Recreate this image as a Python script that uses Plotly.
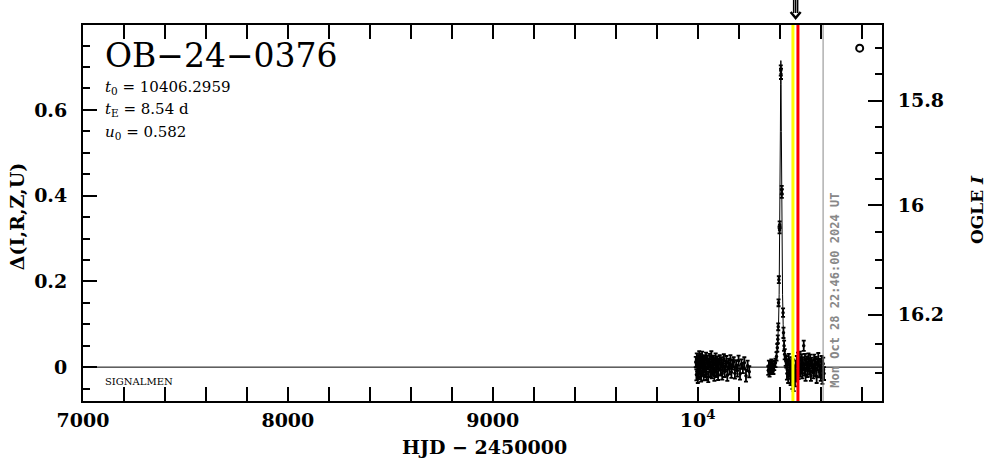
import plotly.graph_objects as go

# ---------------- data ----------------
EVENT = "OB−24−0376"
T0 = 10406.2959
TE = 8.54
U0 = 0.582
NOTE = "SIGNALMEN"
DATE_TEXT = "Mon Oct 28 22:46:00 2024 UT"
DATE_T = 10612.45          # HJD-2450000 of the date stamp
YELLOW_T = 10465.3
RED_T = 10489.7
ARROW_T = 10478.5

# 2023 season baseline
T23 = [9991, 9994, 9996, 9998, 10001, 10003, 10005, 10008, 10010, 10012,
       10015, 10017, 10019, 10022, 10025, 10027, 10030, 10033, 10035, 10038,
       10041, 10043, 10046, 10049, 10052, 10055, 10058, 10061, 10064, 10067,
       10070, 10073, 10076, 10079, 10082, 10085, 10088, 10091, 10094, 10097,
       10100, 10104, 10108, 10112, 10116, 10120, 10124, 10128, 10132, 10136,
       10140, 10145, 10150, 10155, 10160, 10165, 10170, 10176, 10182, 10188,
       10194, 10200, 10207, 10214, 10221, 10228, 10236, 10244, 10252]
D23 = [0.012, -0.018, 0.021, 0.004, -0.025, 0.015, -0.008, 0.026, 0.002, -0.014,
       0.019, -0.021, 0.008, 0.024, -0.006, 0.011, -0.019, 0.017, 0.003, -0.011,
       0.022, -0.016, 0.009, 0.014, -0.023, 0.006, 0.018, -0.009, 0.001, 0.025,
       -0.013, 0.010, -0.004, 0.016, -0.020, 0.007, 0.020, -0.012, 0.003, 0.013,
       -0.017, 0.008, 0.017, -0.007, 0.011, -0.015, 0.005, 0.019, -0.010, 0.002,
       0.014, -0.019, 0.009, -0.003, 0.016, -0.012, 0.006, 0.012, -0.014, 0.004,
       -0.008, 0.015, -0.016, 0.007, -0.002, 0.010, -0.020, 0.003, -0.011]
E23 = [0.012, 0.013, 0.011, 0.014, 0.012, 0.013, 0.015, 0.011, 0.012, 0.014,
       0.012, 0.013, 0.011, 0.012, 0.014, 0.013, 0.012, 0.011, 0.013, 0.012,
       0.012, 0.014, 0.011, 0.013, 0.012, 0.012, 0.013, 0.014, 0.011, 0.012,
       0.013, 0.012, 0.014, 0.011, 0.012, 0.013, 0.012, 0.011, 0.014, 0.012,
       0.013, 0.012, 0.011, 0.013, 0.012, 0.014, 0.012, 0.011, 0.013, 0.012,
       0.012, 0.013, 0.011, 0.014, 0.012, 0.013, 0.012, 0.011, 0.013, 0.012,
       0.014, 0.012, 0.013, 0.011, 0.012, 0.013, 0.014, 0.012, 0.013]

# 2024 season: before, during and after the peak
T24 = [10345, 10348, 10351, 10354, 10357, 10360, 10363, 10366, 10370, 10374,
       10380, 10385, 10389, 10391.5, 10393.5, 10395, 10396.5, 10400, 10400.5,
       10406.0, 10407.0, 10410.5, 10411, 10417, 10419, 10422, 10425, 10430,
       10433, 10436, 10439, 10442, 10445, 10448, 10451, 10454, 10457, 10460,
       10463, 10466, 10469, 10472, 10475, 10478, 10481, 10484, 10487, 10490,
       10493, 10496, 10499, 10502, 10505, 10508, 10511, 10514, 10518, 10521,
       10524, 10527, 10530, 10533, 10537, 10541, 10545, 10549, 10553, 10557,
       10561, 10565, 10569, 10573, 10577, 10581, 10585, 10589, 10593, 10597,
       10601, 10605, 10609, 10613, 10617]
D24 = [-0.008, 0.004, -0.012, 0.000, -0.005, 0.008, -0.003, 0.002, -0.006, 0.004,
       0.010, 0.025, 0.045, 0.065, 0.094, 0.150, 0.204, 0.320, 0.332,
       0.692, 0.684, 0.413, 0.405, 0.127, 0.080, 0.050, 0.030, 0.015,
       0.012, -0.015, 0.006, -0.022, 0.018, -0.008, 0.003, -0.027, 0.010, -0.018,
       -0.035, 0.005, -0.040, -0.012, -0.030, 0.002, -0.020, 0.014, -0.008, 0.020,
       -0.016, 0.008, 0.022, -0.010, 0.004, 0.016, -0.014, 0.010, 0.050, -0.006,
       0.018, -0.018, 0.007, 0.012, -0.009, 0.020, -0.004, 0.015, -0.020, 0.009,
       0.002, -0.013, 0.017, -0.007, 0.011, -0.022, 0.006, 0.019, -0.011, 0.004,
       -0.018, 0.013, -0.024, 0.008, -0.015]
E24 = [0.010, 0.011, 0.010, 0.012, 0.011, 0.010, 0.011, 0.012, 0.010, 0.011,
       0.010, 0.010, 0.009, 0.009, 0.008, 0.008, 0.008, 0.008, 0.008,
       0.012, 0.012, 0.010, 0.010, 0.010, 0.012, 0.012, 0.012, 0.012,
       0.013, 0.014, 0.012, 0.015, 0.013, 0.014, 0.012, 0.015, 0.013, 0.014,
       0.016, 0.013, 0.016, 0.014, 0.015, 0.013, 0.014, 0.012, 0.013, 0.014,
       0.012, 0.013, 0.014, 0.012, 0.013, 0.014, 0.012, 0.013, 0.012, 0.014,
       0.013, 0.014, 0.012, 0.013, 0.014, 0.012, 0.013, 0.014, 0.012, 0.013,
       0.014, 0.013, 0.012, 0.014, 0.013, 0.015, 0.013, 0.014, 0.013, 0.015,
       0.014, 0.013, 0.015, 0.014, 0.015]

# model light curve
MODEL_T = [10340, 10380, 10388, 10392, 10395, 10398, 10400, 10402, 10404, 10405.3,
           10406.3, 10407.3, 10408.6, 10410.6, 10412.6, 10414.6, 10417.6, 10420.6,
           10424.6, 10432, 10470]
MODEL_D = [0.0, 0.012, 0.035, 0.062, 0.10, 0.17, 0.25, 0.38, 0.55, 0.66,
           0.715, 0.66, 0.55, 0.38, 0.25, 0.17, 0.10, 0.062, 0.035, 0.012, 0.0]

# lone open circle near the top right
CIRCLE_T = [10791]
CIRCLE_D = [0.744]

# axes
X_RANGE = [7000, 10900]
Y_RANGE = [-0.079, 0.798]
X_TICKS = [7000, 8000, 9000, 10000]
X_TICKTEXT = ["7000", "8000", "9000", "10<sup>4</sup>"]
Y_TICKS = [0, 0.2, 0.4, 0.6]
Y_TICKTEXT = ["0", "0.2", "0.4", "0.6"]
# right OGLE I magnitude axis: labels and their Δ positions
MAG_MAJOR = ["15.8", "16", "16.2"]
MAG_MAJOR_POS = [0.6214, 0.3783, 0.1221]
MAG_MINOR_POS = [0.7436, 0.6830, 0.5608, 0.5002, 0.4396, 0.3147, 0.2501,
                 0.1841, 0.0534, -0.0140]

assert len(T23) == len(D23) == len(E23)
assert len(T24) == len(D24) == len(E24)
assert len(MODEL_T) == len(MODEL_D)

# ---------------- figure ----------------
FONT = "DejaVu Serif"
fig = go.Figure()

err_style = dict(type="data", thickness=1.8, width=2, color="black")
for t, d, e in [(T23, D23, E23), (T24, D24, E24)]:
    fig.add_trace(go.Scatter(
        x=t, y=d, mode="markers",
        marker=dict(size=3.5, color="black"),
        error_y=dict(array=e, **err_style),
        showlegend=False, hoverinfo="skip"))

fig.add_trace(go.Scatter(x=MODEL_T, y=MODEL_D, mode="lines",
                         line=dict(color="black", width=1),
                         showlegend=False, hoverinfo="skip"))
fig.add_trace(go.Scatter(x=CIRCLE_T, y=CIRCLE_D, mode="markers",
                         marker=dict(size=7, symbol="circle-open", color="black",
                                     line=dict(width=2, color="black")),
                         showlegend=False, hoverinfo="skip"))
# invisible traces to activate the right-side axes
fig.add_trace(go.Scatter(x=[X_RANGE[0]], y=[0], yaxis="y2", mode="markers",
                         marker=dict(opacity=0), showlegend=False, hoverinfo="skip"))
fig.add_trace(go.Scatter(x=[X_RANGE[0]], y=[0], yaxis="y3", mode="markers",
                         marker=dict(opacity=0), showlegend=False, hoverinfo="skip"))

shapes = [
    dict(type="line", xref="paper", x0=0, x1=1, yref="y", y0=0, y1=0,
         line=dict(color="black", width=1)),
    dict(type="line", xref="x", x0=YELLOW_T, x1=YELLOW_T, yref="paper", y0=0, y1=1,
         line=dict(color="#ffff00", width=3)),
    dict(type="line", xref="x", x0=RED_T, x1=RED_T, yref="paper", y0=0, y1=1,
         line=dict(color="#ff0000", width=3)),
    dict(type="line", xref="x", x0=DATE_T, x1=DATE_T, yref="paper", y0=0, y1=1,
         line=dict(color="#888888", width=1)),
]
# the down arrow above the frame
for dx in (-2, 0, 2):
    shapes.append(dict(type="line", xref="x", xsizemode="pixel", xanchor=ARROW_T,
                       x0=dx, x1=dx, yref="paper", ysizemode="pixel", yanchor=1,
                       y0=12, y1=26, line=dict(color="black", width=1.5)))
shapes.append(dict(type="path", xref="x", xsizemode="pixel", xanchor=ARROW_T,
                   yref="paper", ysizemode="pixel", yanchor=1,
                   path="M -5,13 L 0,7 L 5,13", line=dict(color="black", width=2.5)))

annotations = [
    dict(text=EVENT, xref="paper", yref="paper", x=0.025, y=0.918,
         xanchor="left", yanchor="middle", showarrow=False,
         font=dict(family=FONT, size=33, color="black")),
    dict(text=f"<i>t</i><sub>0</sub> = {T0:.4f}", xref="paper", yref="paper",
         x=0.025, y=0.835, xanchor="left", yanchor="middle", showarrow=False,
         font=dict(family=FONT, size=15, color="black")),
    dict(text=f"<i>t</i><sub>E</sub> = {TE:.2f} d", xref="paper", yref="paper",
         x=0.025, y=0.774, xanchor="left", yanchor="middle", showarrow=False,
         font=dict(family=FONT, size=15, color="black")),
    dict(text=f"<i>u</i><sub>0</sub> = {U0:.3f}", xref="paper", yref="paper",
         x=0.025, y=0.715, xanchor="left", yanchor="middle", showarrow=False,
         font=dict(family=FONT, size=15, color="black")),
    dict(text=NOTE, xref="paper", yref="paper", x=0.025, y=0.053,
         xanchor="left", yanchor="middle", showarrow=False,
         font=dict(family=FONT, size=10, color="black")),
    dict(text=f"<b>{DATE_TEXT}</b>", xref="x", yref="paper", x=DATE_T, xshift=3,
         y=0.029, xanchor="left", yanchor="bottom", textangle=-90, showarrow=False,
         font=dict(family="DejaVu Sans Mono", size=12, color="#888888")),
    dict(text="<b>Δ(I,R,Z,U)</b>", xref="paper", yref="paper", x=-0.0826, y=0.489,
         xanchor="center", yanchor="middle", textangle=-90, showarrow=False,
         font=dict(family=FONT, size=19, color="black")),
    dict(text="<b>HJD − 2450000</b>", xref="paper", yref="paper", x=0.502, y=-0.122,
         xanchor="center", yanchor="middle", showarrow=False,
         font=dict(family=FONT, size=19, color="black")),
    dict(text="<b>OGLE <i>I</i></b>", xref="paper", yref="paper", x=1.119, y=0.508,
         xanchor="center", yanchor="middle", textangle=-90, showarrow=False,
         font=dict(family=FONT, size=17, color="black")),
]

tickfont = dict(family=FONT, size=19, color="black", weight="bold")
fig.update_layout(
    width=986, height=459,
    margin=dict(l=83, r=104, t=25, b=58, autoexpand=False),
    paper_bgcolor="white", plot_bgcolor="white",
    showlegend=False,
    shapes=shapes, annotations=annotations,
    xaxis=dict(range=X_RANGE, tickvals=X_TICKS, ticktext=X_TICKTEXT,
               ticks="inside", ticklen=14, tickwidth=2, tickcolor="black",
               minor=dict(dtick=200, tick0=7000, ticks="inside", ticklen=7,
                          tickwidth=2, tickcolor="black"),
               showline=True, linewidth=2, linecolor="black", mirror="allticks",
               showgrid=False, zeroline=False, tickfont=tickfont,
               ticklabelstandoff=1, automargin=False),
    yaxis=dict(range=Y_RANGE, tickvals=Y_TICKS, ticktext=Y_TICKTEXT,
               ticks="inside", ticklen=14, tickwidth=2, tickcolor="black",
               minor=dict(dtick=0.05, tick0=0, ticks="inside", ticklen=7,
                          tickwidth=2, tickcolor="black"),
               showline=True, linewidth=2, linecolor="black",
               showgrid=False, zeroline=False, tickfont=tickfont,
               ticklabelstandoff=10, automargin=False),
    yaxis2=dict(range=Y_RANGE, overlaying="y", side="right",
                tickvals=MAG_MAJOR_POS, ticktext=MAG_MAJOR,
                ticks="inside", ticklen=14, tickwidth=2, tickcolor="black",
                showline=True, linewidth=2, linecolor="black",
                showgrid=False, zeroline=False, tickfont=tickfont,
                ticklabelstandoff=10, automargin=False),
    yaxis3=dict(range=Y_RANGE, overlaying="y", side="right",
                tickvals=MAG_MINOR_POS, showticklabels=False,
                ticks="inside", ticklen=7, tickwidth=2, tickcolor="black",
                showline=False, showgrid=False, zeroline=False, automargin=False),
)

fig.write_html("out.html",
               config={"displayModeBar": False},
               post_script="document.body.style.margin='0';"
                           "document.body.style.overflow='hidden';")
